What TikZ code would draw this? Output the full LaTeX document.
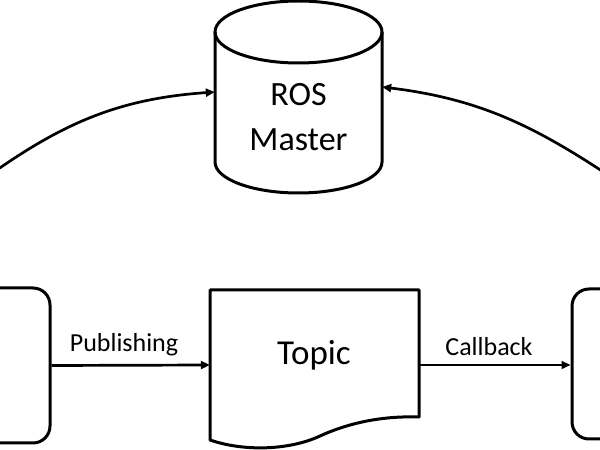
\documentclass[tikz,border=0pt]{standalone}
\usepackage{fontspec}
\setmainfont{Carlito}
\usetikzlibrary{arrows.meta}
\begin{document}
\begin{tikzpicture}[x=1pt,y=1pt,
  shapeline/.style={line width=3pt,line join=round},
  conn/.style={line width=2.7pt,-{Triangle[length=9pt,width=8pt]}},
  lbl/.style={font=\fontsize{26}{30}\selectfont,inner sep=0pt},
  big/.style={align=center,inner sep=0pt,font=\fontsize{34}{45}\selectfont}]
\useasboundingbox (0,0) rectangle (600,450);
\clip (0,0) rectangle (600,450);
% ROS Master cylinder
\node[big,minimum width=167pt] (master) at (298.5,332.5) {ROS\\Master};
\draw[shapeline] (298.5,418) ellipse[x radius=83.5, y radius=31];
\draw[shapeline] (215,418) -- (215,288) arc[start angle=180,end angle=360,x radius=83.5,y radius=31] -- (382,418);
% left and right nodes (cut by the frame)
\node[shapeline,draw,rounded corners=17pt,minimum width=160pt,minimum height=155pt] (pub) at (-30,84.5) {};
\node[shapeline,draw,rounded corners=17pt,minimum width=160pt,minimum height=150pt] (sub) at (652,86) {};
% Topic document
\node[minimum width=209pt,minimum height=150pt,inner sep=0pt] (topicbox) at (314.5,85) {};
\draw[shapeline] (210,10) -- (210,160) -- (419,160) -- (419,33)
  .. controls (390,34) and (355,30) .. (320,14)
  .. controls (290,0) and (245,-2) .. cycle;
\node[inner sep=0pt,font=\fontsize{35}{40}\selectfont] (topic) at (314,95) {Topic};
% connectors
\draw[conn] (pub.east) -- (topicbox.west);
\draw[conn] (topicbox.east) -- (topicbox.east -| sub.west);
\node[lbl] (publbl) at (124,105) {Publishing};
\node[lbl] (cblbl) at (489,103) {Callback};
\coordinate (lstart) at (-20,268);
\coordinate (rstart) at (620,267);
\draw[conn] (lstart) to[out=36,in=184] ([yshift=25.5pt]master.west);
\draw[conn] (rstart) to[out=146,in=-7] ([yshift=30.5pt]master.east);
\end{tikzpicture}
\end{document}
